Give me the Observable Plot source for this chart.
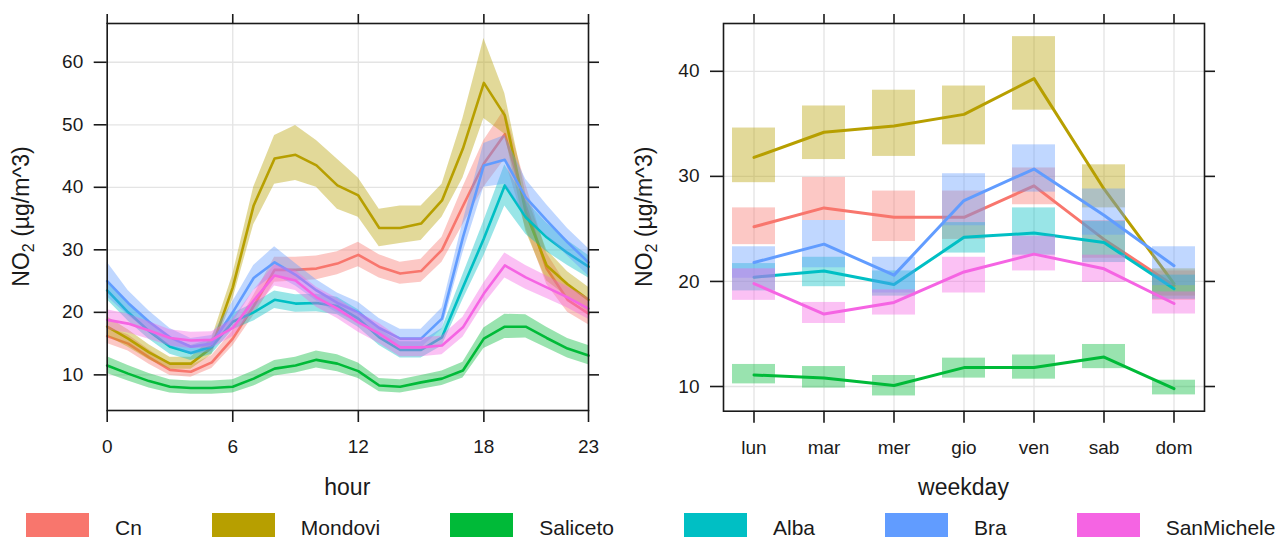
<!DOCTYPE html>
<html><head><meta charset="utf-8">
<script src="https://cdn.jsdelivr.net/npm/d3@7"></script>
<script src="https://cdn.jsdelivr.net/npm/@observablehq/plot@0.6"></script>
<style>
body{margin:0;background:#fff;}
#wrap{position:relative;width:1288px;height:540px;font-family:"Liberation Sans",Arial,sans-serif;background:#fff;}
#left{position:absolute;left:0;top:0;}
#right{position:absolute;left:620px;top:0;}
#legend{position:absolute;left:26px;top:513px;display:flex;align-items:flex-start;}
.item{display:flex;align-items:flex-start;margin-right:70px;}
.sw{width:63px;height:23.5px;}
.lab{margin-left:26px;font-size:21px;line-height:23px;padding-top:3px;color:#1a1a1a;white-space:nowrap;}
</style></head>
<body><div id="wrap"><div id="left"></div><div id="right"></div><div id="legend"></div></div>
<script>
// ---------------- data ----------------
const stations = ["Cn", "Mondovi", "Saliceto", "Alba", "Bra", "SanMichele"];
const colors = ["#F8766D", "#B79F00", "#00BA38", "#00BFC4", "#619CFF", "#F564E3"];
const hours = [0,1,2,3,4,5,6,7,8,9,10,11,12,13,14,15,16,17,18,19,20,21,22,23];
const hourTicks = [0, 6, 12, 18, 23];
const days = ["lun", "mar", "mer", "gio", "ven", "sab", "dom"];
const yTicksHour = [10, 20, 30, 40, 50, 60];
const yTicksDay = [10, 20, 30, 40];

// rows follow the order of `stations`
const hourMean = [
  [16.2,15.0,12.8,10.8,10.5,12.0,15.8,21.0,26.8,26.8,27.0,27.8,29.2,27.3,26.2,26.6,30.0,37.0,43.8,48.5,37.0,27.0,22.0,19.8],
  [17.7,15.8,13.6,11.8,11.8,14.4,24.0,37.1,44.6,45.2,43.5,40.3,38.7,33.5,33.5,34.2,37.9,46.2,56.7,51.5,36.0,27.5,24.5,22.0],
  [11.5,10.2,9.0,8.1,7.9,7.9,8.1,9.4,11.0,11.5,12.4,11.8,10.6,8.3,8.1,8.8,9.4,10.7,15.8,17.7,17.7,15.9,14.2,13.1],
  [23.5,20.0,17.0,14.5,13.5,14.5,18.5,20.0,22.0,21.4,21.5,21.0,19.0,16.0,14.0,14.0,16.0,24.0,31.8,40.3,35.2,32.0,29.5,27.3],
  [25.0,21.5,18.5,16.0,14.5,15.0,20.0,25.5,28.0,26.0,23.5,21.5,20.0,17.5,15.8,15.8,19.0,32.0,43.5,44.4,38.4,34.7,31.2,28.0],
  [18.8,18.2,17.1,15.9,15.5,15.6,17.5,21.9,25.9,25.1,22.4,20.6,18.4,16.6,14.4,14.4,14.7,17.6,23.0,27.5,25.6,24.0,22.4,20.6]
];
const hourLo = [
  [15.0,13.8,11.7,9.9,9.6,11.0,14.6,19.5,24.8,25.0,25.2,26.0,27.3,25.5,24.5,24.8,28.0,34.0,40.0,44.5,33.5,24.5,20.0,18.0],
  [16.2,14.4,12.4,10.9,10.9,13.2,22.0,34.0,40.5,41.1,40.0,36.5,35.2,30.5,31.0,31.5,35.2,41.5,51.0,48.5,33.0,25.0,22.5,20.0],
  [10.2,9.0,7.9,7.1,6.9,6.9,7.1,8.2,9.8,10.3,11.1,10.5,9.4,7.3,7.1,7.7,8.3,9.5,14.2,15.8,15.9,14.3,12.7,11.6],
  [22.0,18.6,15.7,13.3,12.3,13.3,17.2,18.6,20.6,20.0,20.1,19.6,17.6,14.7,12.7,12.7,14.6,22.0,29.0,37.0,32.5,29.7,27.5,25.5],
  [22.5,19.5,16.8,14.6,13.2,13.7,18.3,23.5,26.0,24.2,21.8,19.9,18.4,16.0,14.3,14.3,17.3,29.5,40.0,40.5,35.5,32.2,29.0,25.8],
  [17.2,16.7,15.7,14.6,14.2,14.3,16.1,20.3,24.2,23.5,20.8,19.0,16.8,15.0,12.9,12.9,13.2,16.0,21.3,25.5,23.7,22.2,20.7,18.9]
];
const hourHi = [
  [17.6,16.4,14.0,11.8,11.5,13.1,17.0,22.7,28.8,28.8,29.0,29.7,31.2,29.2,28.0,28.5,32.0,40.0,47.5,52.5,40.5,29.5,24.2,21.8],
  [19.3,17.2,14.8,12.8,12.8,15.8,26.0,40.0,48.3,49.9,47.5,44.5,41.5,36.5,37.0,37.0,40.5,51.0,63.8,55.0,39.0,30.0,26.5,24.0],
  [12.9,11.5,10.2,9.2,9.0,9.0,9.2,10.6,12.3,12.8,13.8,13.2,11.9,9.4,9.2,9.9,10.6,12.0,17.5,19.7,19.6,17.6,15.8,14.7],
  [25.0,21.4,18.3,15.7,14.7,15.7,19.8,21.4,23.4,22.8,22.9,22.4,20.4,17.3,15.3,15.3,17.4,26.0,34.6,43.6,37.9,34.3,31.5,29.1],
  [28.0,23.5,20.2,17.4,15.8,16.3,21.7,27.5,30.5,27.8,25.2,23.1,21.6,19.0,17.3,17.3,20.7,34.5,47.0,48.3,41.3,37.2,33.4,30.2],
  [20.4,19.7,18.5,17.2,16.8,16.9,18.9,23.5,27.6,26.7,24.0,22.2,20.0,18.2,15.9,15.9,16.2,19.2,24.7,29.5,27.5,25.8,24.1,22.3]
];
const dayMean = [
  [25.2,27.0,26.1,26.1,29.1,24.0,19.6],
  [31.8,34.2,34.8,35.9,39.3,28.8,19.8],
  [11.1,10.8,10.1,11.8,11.8,12.8,9.8],
  [20.4,21.0,19.7,24.2,24.6,23.7,19.3],
  [21.8,23.55,20.6,27.7,30.7,26.3,21.5],
  [19.8,16.9,18.0,20.9,22.6,21.2,17.9]
];
const dayLo = [
  [23.5,25.8,23.8,24.0,27.3,22.2,18.2],
  [29.4,31.6,31.9,33.0,36.3,27.0,18.6],
  [10.25,9.85,9.1,10.8,10.7,11.7,9.2],
  [19.1,19.5,18.6,22.7,22.5,21.8,18.3],
  [20.3,21.3,18.9,25.3,28.5,24.4,19.6],
  [18.2,16.0,16.8,18.9,21.0,19.9,16.9]
];
const dayHi = [
  [27.0,29.9,28.6,28.6,30.8,25.8,21.0],
  [34.6,36.7,38.2,38.6,43.3,31.1,21.2],
  [12.1,11.9,11.05,12.7,13.0,14.0,10.6],
  [21.7,22.3,21.0,25.6,27.0,25.7,20.6],
  [23.3,25.8,22.3,30.25,33.0,28.8,23.3],
  [21.2,18.0,19.2,22.3,24.3,22.5,19.0]
];

// ---------------- build ----------------
const font = '"Liberation Sans", Arial, sans-serif';
const ink = "#1a1a1a";
const gridColor = "#e4e4e4";
const color = {domain: stations, range: colors};

function hourRows(si) {
  return hours.map((h, i) => ({station: stations[si], hour: h, mean: hourMean[si][i], lo: hourLo[si][i], hi: hourHi[si][i]}));
}
function dayRows(si) {
  return days.map((d, i) => ({station: stations[si], day: d, mean: dayMean[si][i], lo: dayLo[si][i], hi: dayHi[si][i]}));
}

function addTitles(svg, xTitle, xc, yc, ylx) {
  const s = d3.select(svg);
  s.append("text").attr("x", xc).attr("y", 495).attr("text-anchor", "middle")
    .attr("fill", ink).style("font-size", "23px").style("font-family", font).text(xTitle);
  const t = s.append("text").attr("transform", `translate(${ylx},${yc}) rotate(-90)`)
    .attr("text-anchor", "middle").attr("fill", ink).style("font-size", "23px").style("font-family", font);
  t.append("tspan").text("NO");
  t.append("tspan").attr("dy", "5").style("font-size", "16px").text("2");
  t.append("tspan").attr("dy", "-5").text(" (µg/m^3)");
}

// left: hour
const leftMarks = [
  Plot.gridX(hourTicks, {stroke: gridColor, strokeOpacity: 1, strokeWidth: 1.3}),
  Plot.gridY(yTicksHour, {stroke: gridColor, strokeOpacity: 1, strokeWidth: 1.3})
];
stations.forEach((s, si) => {
  const rows = hourRows(si);
  leftMarks.push(Plot.areaY(rows, {x: "hour", y1: "lo", y2: "hi", fill: "station", fillOpacity: 0.4}));
  leftMarks.push(Plot.lineY(rows, {x: "hour", y: "mean", stroke: "station", strokeWidth: 2.6}));
});
leftMarks.push(
  Plot.frame({stroke: ink, strokeWidth: 1.6}),
  Plot.axisX({anchor: "bottom", ticks: hourTicks, tickSize: 12, tickPadding: 17, label: null, stroke: ink, strokeWidth: 1.6}),
  Plot.axisX({anchor: "top", ticks: hourTicks, tickSize: 10, tickFormat: () => "", label: null, stroke: ink, strokeWidth: 1.6}),
  Plot.axisY({anchor: "left", ticks: yTicksHour, tickSize: 13, tickPadding: 11, label: null, stroke: ink, strokeWidth: 1.6}),
  Plot.axisY({anchor: "right", ticks: yTicksHour, tickSize: 10, tickFormat: () => "", label: null, stroke: ink, strokeWidth: 1.6})
);
const left = Plot.plot({
  width: 620, height: 500,
  marginLeft: 106.7, marginRight: 32, marginTop: 23, marginBottom: 90,
  style: {fontSize: "19px", fontFamily: font, color: ink, background: "transparent", overflow: "visible"},
  x: {domain: [0, 23], label: null},
  y: {domain: [4.3, 66.2], label: null},
  color,
  marks: leftMarks
});
addTitles(left, "hour", 347.3, 216.5, 29);
document.getElementById("left").appendChild(left);

// right: weekday
const rightMarks = [
  Plot.gridX(days, {stroke: gridColor, strokeOpacity: 1, strokeWidth: 1.3}),
  Plot.gridY(yTicksDay, {stroke: gridColor, strokeOpacity: 1, strokeWidth: 1.3})
];
stations.forEach((s, si) => {
  const rows = dayRows(si);
  rightMarks.push(Plot.barY(rows, {x: "day", y1: "lo", y2: "hi", fill: "station", fillOpacity: 0.4}));
  rightMarks.push(Plot.lineY(rows, {x: "day", y: "mean", stroke: "station", strokeWidth: 3}));
});
rightMarks.push(
  Plot.frame({stroke: ink, strokeWidth: 1.6}),
  Plot.axisX({anchor: "bottom", tickSize: 12, tickPadding: 17, label: null, stroke: ink, strokeWidth: 1.6}),
  Plot.axisX({anchor: "top", tickSize: 10, tickFormat: () => "", label: null, stroke: ink, strokeWidth: 1.6}),
  Plot.axisY({anchor: "left", ticks: yTicksDay, tickSize: 13, tickPadding: 11, label: null, stroke: ink, strokeWidth: 1.6}),
  Plot.axisY({anchor: "right", ticks: yTicksDay, tickSize: 10, tickFormat: () => "", label: null, stroke: ink, strokeWidth: 1.6})
);
const right = Plot.plot({
  width: 668, height: 500,
  marginLeft: 103, marginRight: 84, marginTop: 23, marginBottom: 89.3,
  style: {fontSize: "19px", fontFamily: font, color: ink, background: "transparent", overflow: "visible"},
  x: {type: "band", domain: days, paddingInner: 0.385, paddingOuter: 0.114, align: 0.5, label: null},
  y: {domain: [7.65, 44.55], label: null},
  color,
  marks: rightMarks
});
addTitles(right, "weekday", 343.5, 216.8, 32);
document.getElementById("right").appendChild(right);

// legend
const legend = d3.select("#legend");
stations.forEach((s, si) => {
  const it = legend.append("div").attr("class", "item");
  it.append("div").attr("class", "sw").style("background", colors[si]);
  it.append("div").attr("class", "lab").text(s);
});
</script></body></html>
